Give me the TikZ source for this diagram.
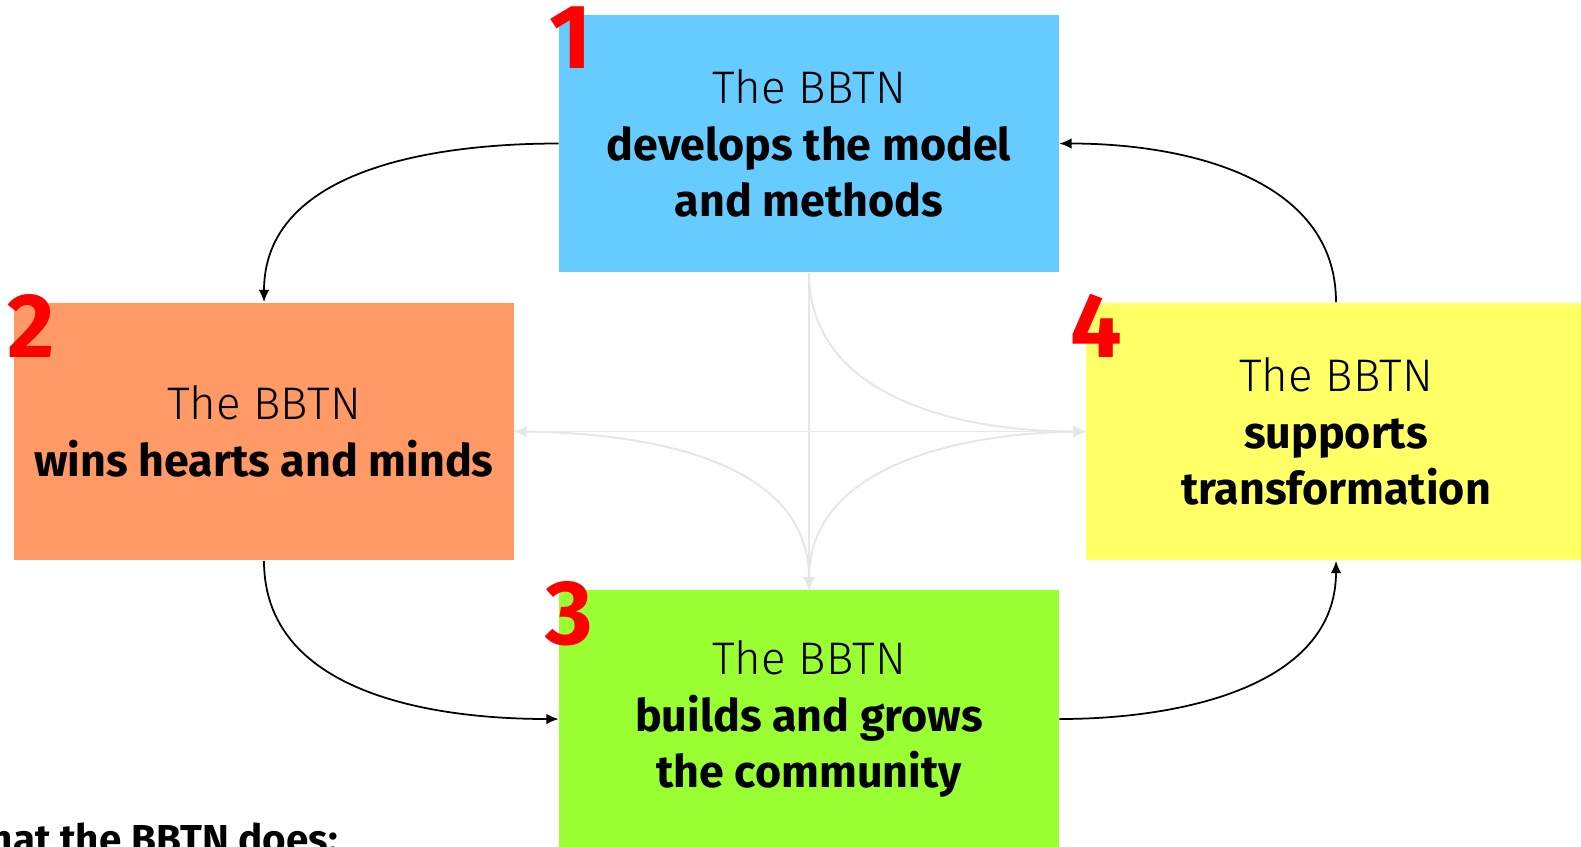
\documentclass[tikz,border=0pt]{standalone}
\usepackage{fontspec}
\setmainfont{Fira Sans}
\newfontfamily\lightfont{Fira Sans Light}
\usetikzlibrary{calc,arrows.meta}
\definecolor{modelblue}{HTML}{66CCFF}
\definecolor{heartorange}{HTML}{FF9966}
\definecolor{growgreen}{HTML}{99FF33}
\definecolor{changeyellow}{HTML}{FFFF66}
\definecolor{faintgray}{HTML}{E6E6E6}
\newcommand{\bbtn}{{\lightfont\mdseries\fontsize{26}{32}\selectfont The BBTN}}
\begin{document}
\begin{tikzpicture}[x=0.02cm,y=-0.02cm,
	stagebox/.style={minimum width=10cm,minimum height=5.16cm,inner sep=0pt,align=center,
		font=\bfseries\fontsize{25.5}{32}\selectfont},
	flow/.style={-{Latex[length=7pt,width=6pt]},line width=1pt},
	crossflow/.style={draw=faintgray,line width=1.1pt,-{Latex[length=7pt,width=7pt]}},
	stagenum/.style={text=red,font=\bfseries\fontsize{52}{52}\selectfont,inner sep=0pt}]
	\useasboundingbox (0,0) rectangle (1581,846);
	%% the four stages
	\node[stagebox,fill=modelblue] (model) at (809,143.5) {\bbtn\\develops the model\\and methods};
	\node[stagebox,fill=heartorange] (hearts) at (264,431.5) {\bbtn\\wins hearts and minds};
	\node[stagebox,fill=growgreen] (community) at (809,719) {\bbtn\\builds and grows\\the community};
	\node[stagebox,fill=changeyellow] (transform) at (1336,431.5) {\bbtn\\supports\\transformation};
	% faint links through the middle
	\draw[crossflow] (model.south) -- (community.north);
	\draw[crossflow,{Latex[length=7pt,width=7pt]}-{Latex[length=7pt,width=7pt]}] (hearts.east) -- (transform.west);
	\draw[crossflow] (model.south) to[out=-90,in=180] (transform.west);
	\draw[crossflow] (hearts.east) to[out=0,in=90] (community.north);
	\draw[crossflow] (transform.west) to[out=180,in=90] (community.north);
	% the cycle
	\draw[flow] (model.west) to[out=180,in=90] (hearts.north);
	\draw[flow] (hearts.south) to[out=-90,in=180] (community.west);
	\draw[flow] (community.east) to[out=0,in=-90] (transform.south);
	\draw[flow] (transform.north) to[out=90,in=0] (model.east);
	%% the numbers
	\node[stagenum] (num1) at ($(model.north west)+(12,23)$) {1};
	\node[stagenum] (num2) at ($(hearts.north west)+(17,24)$) {2};
	\node[stagenum] (num3) at ($(community.north west)+(11,24)$) {3};
	\node[stagenum] (num4) at ($(transform.north west)+(11,24)$) {4};
	\node[anchor=base east,font=\bfseries\fontsize{23}{32}\selectfont] (caption) at (344,853) {What the BBTN does:};
\end{tikzpicture}
\end{document}
